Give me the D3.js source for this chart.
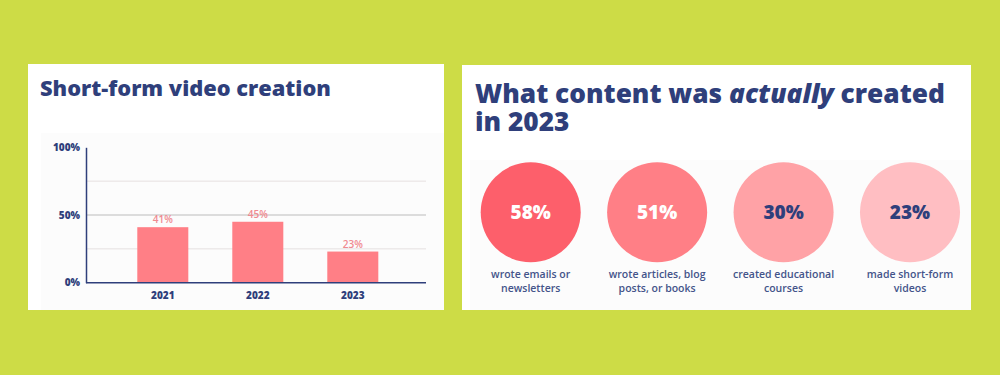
<!DOCTYPE html>
<html><head><meta charset="utf-8">
<script src="https://cdn.jsdelivr.net/npm/d3@7"></script>
<style>
html,body{margin:0;padding:0;background:#cddc46;}
svg{display:block;}
text{font-family:"Open Sans",Lato,sans-serif;}
</style></head>
<body>
<svg id="chart" width="1000" height="375"></svg>
<script>
// ---- data ----
const years = ["2021", "2022", "2023"];
const shortFormShare = [41, 45, 23];
const yTickValues = [0, 50, 100];
const gridValues = [25, 50, 75];
const contentCategories = ["emails", "articles", "courses", "shortform"];
const contentShare = [58, 51, 30, 23];
const contentCaptions = [
  ["wrote emails or", "newsletters"],
  ["wrote articles, blog", "posts, or books"],
  ["created educational", "courses"],
  ["made short-form", "videos"]
];
const leftTitle = "Short-form video creation";
const rightTitleParts = [["What content was ", "normal"], ["actually", "italic"], [" created", "normal"]];
const rightTitleLine2 = "in 2023";

// ---- styles ----
const navy = "#2f3f7b";
const barColor = "#ff7f86";
const barLabelColor = "#f08a90";
const circleFills = ["#fd5f6b", "#ff7f86", "#ffa2a6", "#ffbec2"];
const circleText = ["#ffffff", "#ffffff", navy, navy];

function fitWidth(sel, target) {
  const node = sel.node();
  const fs = parseFloat(sel.attr("font-size"));
  const w = node.getComputedTextLength();
  const nfs = w > 0 ? fs * target / w : fs;
  sel.attr("font-size", nfs);
  return nfs;
}

const svg = d3.select("#chart");
svg.append("rect").attr("width", 1000).attr("height", 375).attr("fill", "#cddc46");

// ---- left panel ----
svg.append("rect").attr("x", 28).attr("y", 64).attr("width", 416).attr("height", 246).attr("fill", "#ffffff");
svg.append("rect").attr("x", 41).attr("y", 133).attr("width", 403).attr("height", 177).attr("fill", "#fcfcfc");
const lt = svg.append("text").attr("x", 40).attr("y", 96).text(leftTitle)
  .attr("fill", navy).attr("font-size", 22).attr("font-weight", 800);
fitWidth(lt, 291);

const y = d3.scaleLinear().domain([0, 100]).range([282.7, 147.3]);
const x = d3.scaleBand().domain(years).range([115.3, 400.3]).paddingInner(0.463).paddingOuter(0.2315);

const g = svg.append("g");
g.selectAll("line.grid").data(gridValues).join("line")
  .attr("x1", 86).attr("x2", 426)
  .attr("y1", d => y(d)).attr("y2", d => y(d))
  .attr("stroke", d => d === 50 ? "#dcdcdc" : "#e6e0e0")
  .attr("stroke-width", d => d === 50 ? 2 : 1);

const yAxis = d3.axisLeft(y).tickValues(yTickValues).tickSize(0).tickPadding(6).tickFormat(d => d + "%");
const ya = g.append("g").attr("transform", "translate(86,0)").call(yAxis);
ya.select(".domain").attr("stroke", navy).attr("stroke-width", 1.5);
ya.selectAll("text").attr("fill", navy).attr("font-size", 10).attr("font-weight", 800)
  .attr("font-family", "'Open Sans', sans-serif");

g.selectAll("rect.bar").data(shortFormShare).join("rect")
  .attr("x", (d, i) => x(years[i])).attr("width", x.bandwidth())
  .attr("y", d => y(d)).attr("height", d => y(0) - y(d)).attr("fill", barColor);

g.selectAll("text.bl").data(shortFormShare).join("text")
  .attr("x", (d, i) => x(years[i]) + x.bandwidth() / 2).attr("y", d => y(d) - 4)
  .attr("text-anchor", "middle").attr("fill", barLabelColor).attr("font-size", 10).attr("font-weight", 600)
  .text(d => d + "%");

const xAxis = d3.axisBottom(x).tickSize(0).tickPadding(9);
const xa = g.append("g").attr("transform", `translate(0,${y(0)})`).call(xAxis);
xa.select(".domain").attr("d", "M86,0H426").attr("stroke", navy).attr("stroke-width", 1.5);
xa.selectAll("text").attr("fill", navy).attr("font-size", 10).attr("font-weight", 800)
  .attr("font-family", "'Open Sans', sans-serif");

// ---- right panel ----
svg.append("rect").attr("x", 462).attr("y", 65).attr("width", 509).attr("height", 245).attr("fill", "#ffffff");
svg.append("rect").attr("x", 470).attr("y", 160).attr("width", 501).attr("height", 150).attr("fill", "#fcfcfc");
const rt = svg.append("text").attr("x", 475).attr("y", 103).attr("fill", navy)
  .attr("font-size", 26).attr("font-weight", 800);
rt.selectAll("tspan.p").data(rightTitleParts).join("tspan")
  .attr("class", "p").attr("font-style", d => d[1]).text(d => d[0]);
fitWidth(rt, 470);
rt.append("tspan").attr("x", 475).attr("dy", 28.3).attr("font-style", "normal").text(rightTitleLine2);

const cx = d3.scalePoint().domain(contentCategories).range([530.7, 910]);
const cg = svg.append("g");
cg.selectAll("circle").data(contentShare).join("circle")
  .attr("cx", (d, i) => cx(contentCategories[i])).attr("cy", 212.3).attr("r", 50)
  .attr("fill", (d, i) => circleFills[i]);
cg.selectAll("text.val").data(contentShare).join("text")
  .attr("x", (d, i) => cx(contentCategories[i])).attr("y", 219)
  .attr("text-anchor", "middle").attr("font-size", 19).attr("font-weight", 800)
  .attr("fill", (d, i) => circleText[i]).text(d => d + "%");
contentCaptions.forEach((lines, i) => {
  cg.append("text").attr("x", cx(contentCategories[i])).attr("y", 278)
    .attr("text-anchor", "middle").attr("fill", "#44548a").attr("font-size", 10.5).attr("font-weight", 600)
    .selectAll("tspan").data(lines).join("tspan")
    .attr("x", cx(contentCategories[i])).attr("dy", (d, j) => j === 0 ? 0 : 14).text(d => d);
});
</script>
</body></html>
